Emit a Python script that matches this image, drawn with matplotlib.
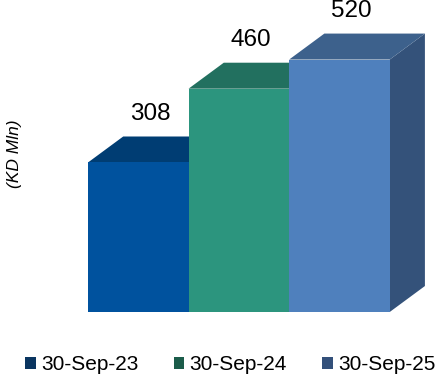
import matplotlib
matplotlib.use("Agg")
import matplotlib.pyplot as plt
from matplotlib.patches import Polygon, Patch

plt.rcParams['font.family'] = ['Liberation Sans', 'DejaVu Sans']

categories = ["30-Sep-23", "30-Sep-24", "30-Sep-25"]
values = [308, 460, 520]

front_colors = ["#00529e", "#2c957e", "#4f80bd"]
top_colors = ["#003d73", "#22705f", "#3d618c"]
side_colors = ["#002f5c", "#1b5c4a", "#34527a"]
legend_colors = ["#0a3560", "#1b5c4a", "#33507a"]

fig = plt.figure(figsize=(4.43, 3.78), dpi=100)
W, H = 443, 378
ax = fig.add_axes([88 / W, (H - 312) / H, 352 / W, 301 / H])
ax.set_xlim(-0.5, 3.0)
ax.set_ylim(0, 620)
ax.axis("off")

width = 1.0
dx, dy = 0.35, 53.5  # depth offset of the 3-D box

for i, v in enumerate(values):
    x0, x1 = i - width / 2, i + width / 2
    side = Polygon([(x1, 0), (x1 + dx, dy), (x1 + dx, v + dy), (x1, v)],
                   closed=True, facecolor=side_colors[i], edgecolor="none",
                   clip_on=False, zorder=1 + i)
    top = Polygon([(x0, v), (x1, v), (x1 + dx, v + dy), (x0 + dx, v + dy)],
                  closed=True, facecolor=top_colors[i], edgecolor="none",
                  clip_on=False, zorder=1 + i)
    front = Polygon([(x0, 0), (x1, 0), (x1, v), (x0, v)],
                    closed=True, facecolor=front_colors[i], edgecolor="none",
                    clip_on=False, zorder=1.5 + i)
    ax.add_patch(side)
    ax.add_patch(top)
    ax.add_patch(front)
    ax.text(i + 0.12, v + dy + 46, str(v), ha="center", va="center",
            fontsize=17.5, color="black", clip_on=False, zorder=10)

fig.text(14 / W, 1 - 154 / H, "(KD Mln)", rotation=90, style="italic",
         ha="center", va="center", fontsize=12.5, color="black")

handles = [Patch(facecolor=c, edgecolor="none") for c in legend_colors]
fig.legend(handles, categories, loc="center", bbox_to_anchor=(0.52, 1 - 365 / H),
           ncol=3, frameon=False, fontsize=15, handlelength=0.5,
           handleheight=0.5, handletextpad=0.25, columnspacing=1.7)

fig.savefig("out.png", dpi=100, facecolor="white")
